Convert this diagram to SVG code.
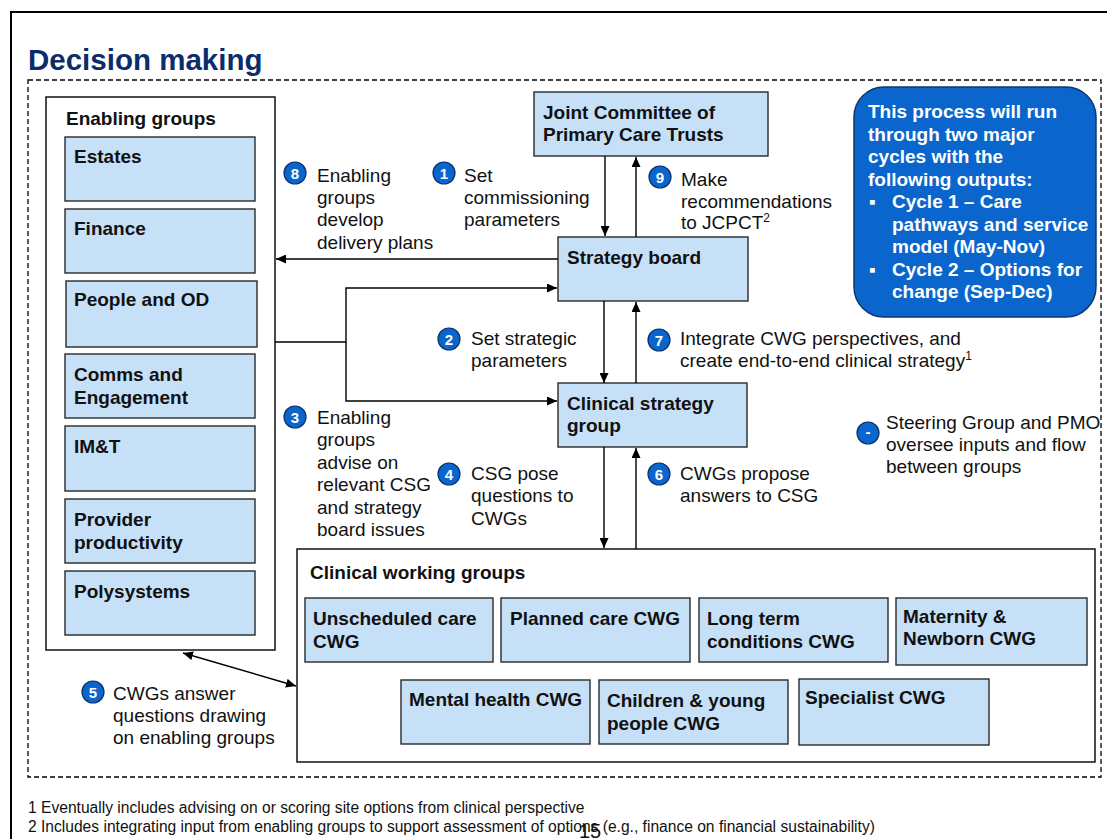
<svg xmlns="http://www.w3.org/2000/svg" width="1107" height="839" viewBox="0 0 1107 839">
<style>
text{font-family:"Liberation Sans",Arial,"DejaVu Sans",sans-serif;fill:#111}
.b{font-weight:bold;font-size:19px}
.r{font-size:19px}
.w{font-weight:bold;font-size:19px;fill:#fff}
.fn{font-size:15.6px}
.box{fill:#c6e0f8;stroke:#2a2a2a;stroke-width:1.4}
.grp{fill:#fff;stroke:#111;stroke-width:1.5}
.num{fill:#0a66cc;stroke:#0a2f6a;stroke-width:1.2}
.nt{font-weight:bold;font-size:15px;fill:#fff;text-anchor:middle}
.c{fill:none;stroke:#000;stroke-width:1.4}
</style>
<defs>
<marker id="ah" markerUnits="userSpaceOnUse" markerWidth="10" markerHeight="9" refX="10" refY="4.5" orient="auto-start-reverse">
<path d="M0,0 L10,4.5 L0,9 z" fill="#000"/>
</marker>
</defs>
<path d="M11,839 V12 H1107" fill="none" stroke="#000" stroke-width="2"/>
<text x="28" y="70" style="font-size:29.5px;font-weight:bold;fill:#0b2d6b">Decision making</text>
<rect x="28" y="80" width="1073" height="697" fill="none" stroke="#000" stroke-width="1.3" stroke-dasharray="5 3"/>

<g id="enabling-groups">
<rect class="grp" x="46" y="97" width="229" height="553"/>
<text class="b" x="66" y="125">Enabling groups</text>
</g>
<g id="estates"><rect class="box" x="65" y="137" width="190" height="64"/><text class="b" x="74" y="163">Estates</text></g>
<g id="finance"><rect class="box" x="65" y="209" width="190" height="64"/><text class="b" x="74" y="235">Finance</text></g>
<g id="people-od"><rect class="box" x="66" y="281" width="191" height="66"/><text class="b" x="74" y="306">People and OD</text></g>
<g id="comms"><rect class="box" x="65" y="354" width="190" height="64"/><text class="b" x="74" y="381">Comms and<tspan x="74" dy="23">Engagement</tspan></text></g>
<g id="imt"><rect class="box" x="65" y="426" width="190" height="65"/><text class="b" x="74" y="453">IM&amp;T</text></g>
<g id="provider"><rect class="box" x="65" y="499" width="190" height="64"/><text class="b" x="74" y="526">Provider<tspan x="74" dy="23">productivity</tspan></text></g>
<g id="polysystems"><rect class="box" x="65" y="571" width="190" height="64"/><text class="b" x="74" y="598">Polysystems</text></g>

<g id="jcpct"><rect class="box" x="534" y="92" width="234" height="64"/><text class="b" x="543" y="119">Joint Committee of<tspan x="543" dy="22">Primary Care Trusts</tspan></text></g>
<g id="strategy-board"><rect class="box" x="558" y="237" width="190" height="64"/><text class="b" x="567" y="264">Strategy board</text></g>
<g id="csg"><rect class="box" x="558" y="383" width="189" height="64"/><text class="b" x="567" y="410">Clinical strategy<tspan x="567" dy="22">group</tspan></text></g>

<g id="info-box">
<rect x="854" y="87" width="242" height="230" rx="30" ry="30" fill="#0a66cc" stroke="#14356e" stroke-width="1.5"/>
<text class="w" x="868" y="118">This process will run<tspan x="868" dy="22.5">through two major</tspan><tspan x="868" dy="22.5">cycles with the</tspan><tspan x="868" dy="22.5">following outputs:</tspan></text>
<text class="w" x="869" y="208">▪</text>
<text class="w" x="892" y="208">Cycle 1 – Care<tspan x="892" dy="22.5">pathways and service</tspan><tspan x="892" dy="22.5">model (May-Nov)</tspan></text>
<text class="w" x="869" y="275.5">▪</text>
<text class="w" x="892" y="275.5">Cycle 2 – Options for<tspan x="892" dy="22.5">change (Sep-Dec)</tspan></text>
</g>

<g id="cwg">
<rect class="grp" x="297" y="549" width="798" height="213"/>
<text class="b" x="310" y="579">Clinical working groups</text>
</g>
<g id="unscheduled"><rect class="box" x="305" y="598" width="188" height="64"/><text class="b" x="313" y="625">Unscheduled care<tspan x="313" dy="22.5">CWG</tspan></text></g>
<g id="planned"><rect class="box" x="501" y="598" width="189" height="64"/><text class="b" x="510" y="625">Planned care CWG</text></g>
<g id="long-term"><rect class="box" x="699" y="598" width="189" height="64"/><text class="b" x="707" y="625">Long term<tspan x="707" dy="22.5">conditions CWG</tspan></text></g>
<g id="maternity"><rect class="box" x="896" y="598" width="191" height="67"/><text class="b" x="903" y="623">Maternity &amp;<tspan x="903" dy="22">Newborn CWG</tspan></text></g>
<g id="mental-health"><rect class="box" x="401" y="680" width="189" height="64"/><text class="b" x="409" y="706">Mental health CWG</text></g>
<g id="children"><rect class="box" x="599" y="680" width="189" height="64"/><text class="b" x="607" y="707">Children &amp; young<tspan x="607" dy="22.5">people CWG</tspan></text></g>
<g id="specialist"><rect class="box" x="799" y="679" width="190" height="66"/><text class="b" x="805" y="704">Specialist CWG</text></g>

<g id="connectors">
<line class="c" x1="605" y1="156" x2="605" y2="236" marker-end="url(#ah)"/>
<line class="c" x1="636" y1="237" x2="636" y2="157" marker-end="url(#ah)"/>
<line class="c" x1="558" y1="259" x2="276" y2="259" marker-end="url(#ah)"/>
<path class="c" d="M275,342 H346 V288 H557" marker-end="url(#ah)"/>
<path class="c" d="M346,342 V401 H557" marker-end="url(#ah)"/>
<line class="c" x1="604" y1="301" x2="604" y2="383" marker-end="url(#ah)"/>
<line class="c" x1="636" y1="383" x2="636" y2="302" marker-end="url(#ah)"/>
<line class="c" x1="604" y1="447" x2="604" y2="548" marker-end="url(#ah)"/>
<line class="c" x1="636" y1="549" x2="636" y2="448" marker-end="url(#ah)"/>
<line class="c" x1="183" y1="653" x2="296" y2="686" marker-start="url(#ah)" marker-end="url(#ah)"/>
</g>

<g id="label-8"><circle class="num" cx="295" cy="173" r="11"/><text class="nt" x="295" y="178.5">8</text>
<text class="r" x="317" y="182">Enabling<tspan x="317" dy="22.2">groups</tspan><tspan x="317" dy="22.2">develop</tspan><tspan x="317" dy="22.2">delivery plans</tspan></text></g>
<g id="label-1"><circle class="num" cx="444" cy="173" r="11"/><text class="nt" x="444" y="178.5">1</text>
<text class="r" x="464" y="182">Set<tspan x="464" dy="22.2">commissioning</tspan><tspan x="464" dy="22.2">parameters</tspan></text></g>
<g id="label-9"><circle class="num" cx="660" cy="177" r="11"/><text class="nt" x="660" y="182.5">9</text>
<text class="r" x="681" y="186">Make<tspan x="681" dy="21.7">recommendations</tspan><tspan x="681" dy="21.7">to JCPCT</tspan><tspan dy="-7" style="font-size:12px">2</tspan></text></g>
<g id="label-2"><circle class="num" cx="449" cy="339" r="11"/><text class="nt" x="449" y="344.5">2</text>
<text class="r" x="471" y="345">Set strategic<tspan x="471" dy="22.3">parameters</tspan></text></g>
<g id="label-7"><circle class="num" cx="659" cy="340" r="11"/><text class="nt" x="659" y="345.5">7</text>
<text class="r" x="680" y="345">Integrate CWG perspectives, and<tspan x="680" dy="22.3">create end-to-end clinical strategy</tspan><tspan dy="-7" style="font-size:12px">1</tspan></text></g>
<g id="label-3"><circle class="num" cx="295" cy="417" r="11"/><text class="nt" x="295" y="422.5">3</text>
<text class="r" x="317" y="424">Enabling<tspan x="317" dy="22.4">groups</tspan><tspan x="317" dy="22.4">advise on</tspan><tspan x="317" dy="22.4">relevant CSG</tspan><tspan x="317" dy="22.4">and strategy</tspan><tspan x="317" dy="22.4">board issues</tspan></text></g>
<g id="label-4"><circle class="num" cx="449" cy="474" r="11"/><text class="nt" x="449" y="479.5">4</text>
<text class="r" x="471" y="480">CSG pose<tspan x="471" dy="22.4">questions to</tspan><tspan x="471" dy="22.4">CWGs</tspan></text></g>
<g id="label-6"><circle class="num" cx="659" cy="474" r="11"/><text class="nt" x="659" y="479.5">6</text>
<text class="r" x="680" y="480">CWGs propose<tspan x="680" dy="22.4">answers to CSG</tspan></text></g>
<g id="label-steering"><circle class="num" cx="868" cy="433" r="11"/><text class="nt" x="868" y="437">-</text>
<text class="r" x="886" y="429">Steering Group and PMO<tspan x="886" dy="22">oversee inputs and flow</tspan><tspan x="886" dy="22">between groups</tspan></text></g>
<g id="label-5"><circle class="num" cx="93" cy="692" r="11"/><text class="nt" x="93" y="697.5">5</text>
<text class="r" x="113" y="700">CWGs answer<tspan x="113" dy="22">questions drawing</tspan><tspan x="113" dy="22">on enabling groups</tspan></text></g>

<text class="fn" x="28" y="813">1 Eventually includes advising on or scoring site options from clinical perspective</text>
<text class="fn" x="28" y="832">2 Includes integrating input from enabling groups to support assessment of options (e.g., finance on financial sustainability)</text>
<text x="579" y="838" style="font-size:20px">15</text>
</svg>
